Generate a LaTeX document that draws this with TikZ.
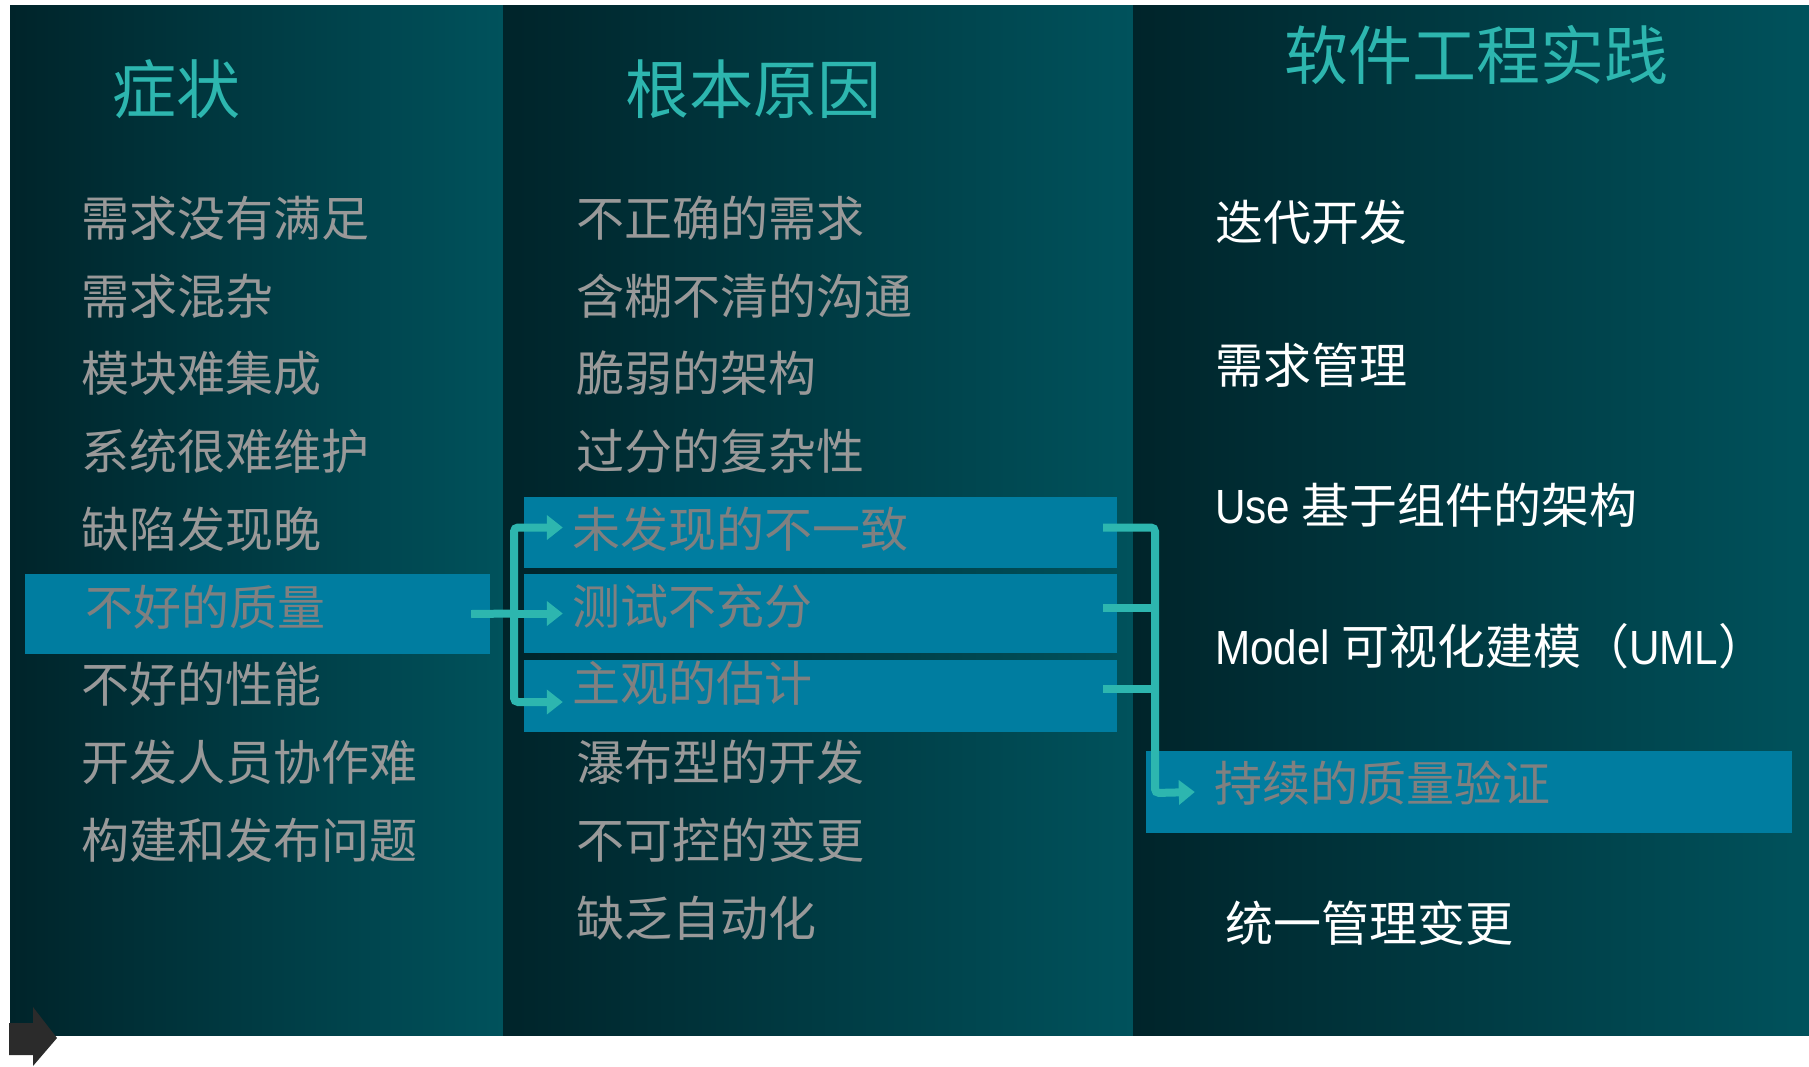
\documentclass[tikz,border=0pt]{standalone}
\usepackage{fontspec}
\setmainfont{Noto Sans CJK SC}
\newfontfamily\narrowfont[FakeStretch=0.88]{Liberation Sans}
\usetikzlibrary{arrows.meta}
\definecolor{bgdark}{RGB}{0,36,42}
\definecolor{bglight}{RGB}{0,82,92}
\definecolor{hlblue}{RGB}{0,125,160}
\definecolor{tealhi}{RGB}{45,182,175}
\definecolor{itemgray}{RGB}{153,153,153}
\definecolor{hlgray}{RGB}{128,128,128}
\definecolor{darkarrow}{RGB}{43,43,43}

\begin{document}
\begin{tikzpicture}[
    x=1pt,y=-1pt,
    colbg/.style={left color=bgdark,right color=bglight},
    hlbox/.style={fill=hlblue,draw=none,inner sep=0},
    title/.style={anchor=west,inner sep=0,text=tealhi,font=\fontsize{64}{64}\selectfont},
    item/.style={anchor=west,inner sep=0,text=itemgray,font=\fontsize{48}{48}\selectfont},
    hlitem/.style={item,text=hlgray},
    practice/.style={item,text=white},
    conn/.style={draw=tealhi,line width=8pt,rounded corners=4pt},
    conntip/.style={-{Triangle[length=16pt,width=24pt]}}
    ]
    \useasboundingbox (0,0) rectangle (1809,1066);
    \shade[colbg] (10,5) rectangle (503,1035);
    \shade[colbg] (503,5) rectangle (1133,1035);
    \shade[colbg] (1133,5) rectangle (1809,1035);
    \fill[darkarrow] (9,1023) -- (33,1023) -- (33,1007) -- (57,1038) -- (33,1066)
      -- (33,1055) -- (9,1055) -- cycle;

    \node[hlbox,minimum width=465pt,minimum height=80pt] (qualbox) at (257.5,614) {};
    \node[hlbox,minimum width=593pt,minimum height=71pt] (midbox1) at (820.5,532.5) {};
    \node[hlbox,minimum width=593pt,minimum height=79pt] (midbox2) at (820.5,613.5) {};
    \node[hlbox,minimum width=593pt,minimum height=72pt] (midbox3) at (820.5,696) {};
    \node[hlbox,minimum width=646pt,minimum height=82pt] (practbox) at (1469,792) {};

    \node[title] (symptoms) at (112,89) {症状};
    \node[title] (causes) at (625,89) {根本原因};
    \node[title] (practices) at (1284,55) {软件工程实践};

    \node[item] (unmet) at (81,218) {需求没有满足};
    \node[item] (churn) at (81,296) {需求混杂};
    \node[item] (integ) at (81,373) {模块难集成};
    \node[item] (maint) at (81,451) {系统很难维护};
    \node[item] (latedef) at (81,529) {缺陷发现晚};
    \node[hlitem] (quality) at (85,607) {不好的质量};
    \node[item] (perf) at (81,684) {不好的性能};
    \node[item] (team) at (81,762) {开发人员协作难};
    \node[item] (build) at (81,840) {构建和发布问题};

    \node[item] (badreq) at (576,218) {不正确的需求};
    \node[item] (ambig) at (576,296) {含糊不清的沟通};
    \node[item] (brittle) at (576,373) {脆弱的架构};
    \node[item] (complex) at (576,451) {过分的复杂性};
    \node[hlitem] (incons) at (572,529) {未发现的不一致};
    \node[hlitem] (testing) at (572,606) {测试不充分};
    \node[hlitem] (subj) at (572,683) {主观的估计};
    \node[item] (waterfall) at (576,762) {瀑布型的开发};
    \node[item] (uncontrol) at (576,840) {不可控的变更};
    \node[item] (noauto) at (576,918) {缺乏自动化};

    \node[practice] (iter) at (1215,222) {迭代开发};
    \node[practice] (reqmgmt) at (1215,365) {需求管理};
    \node[practice] (compo) at (1215,505) {{\narrowfont Use} 基于组件的架构};
    \node[practice] (visual) at (1215,646) {{\narrowfont Model} 可视化建模（{\narrowfont UML}）};
    \node[hlitem] (verify) at (1214,783) {持续的质量验证};
    \node[practice] (change) at (1225,923) {统一管理变更};

    \coordinate (splitL) at (514,613.5);
    \coordinate (joinR) at (1155,793);
    \coordinate (stubB) at ([xshift=-14pt,yshift=6pt]midbox2.east);
    \coordinate (stubC) at ([xshift=-14pt,yshift=7pt]midbox3.east);
    \draw[conn] ([xshift=-19pt]qualbox.east) -- (splitL);
    \draw[conn,conntip] (splitL) |- ([xshift=39pt,yshift=5pt]midbox1.west);
    \draw[conn,conntip] (splitL) -- ([xshift=39pt]midbox2.west);
    \draw[conn,conntip] (splitL) |- ([xshift=39pt,yshift=-6pt]midbox3.west);
    \draw[conn,conntip] ([xshift=-14pt,yshift=5pt]midbox1.east) -| (joinR)
      -- ([xshift=49pt]practbox.west);
    \draw[conn] (stubB) -- (stubB -| joinR);
    \draw[conn] (stubC) -- (stubC -| joinR);
  \end{tikzpicture}
\end{document}
